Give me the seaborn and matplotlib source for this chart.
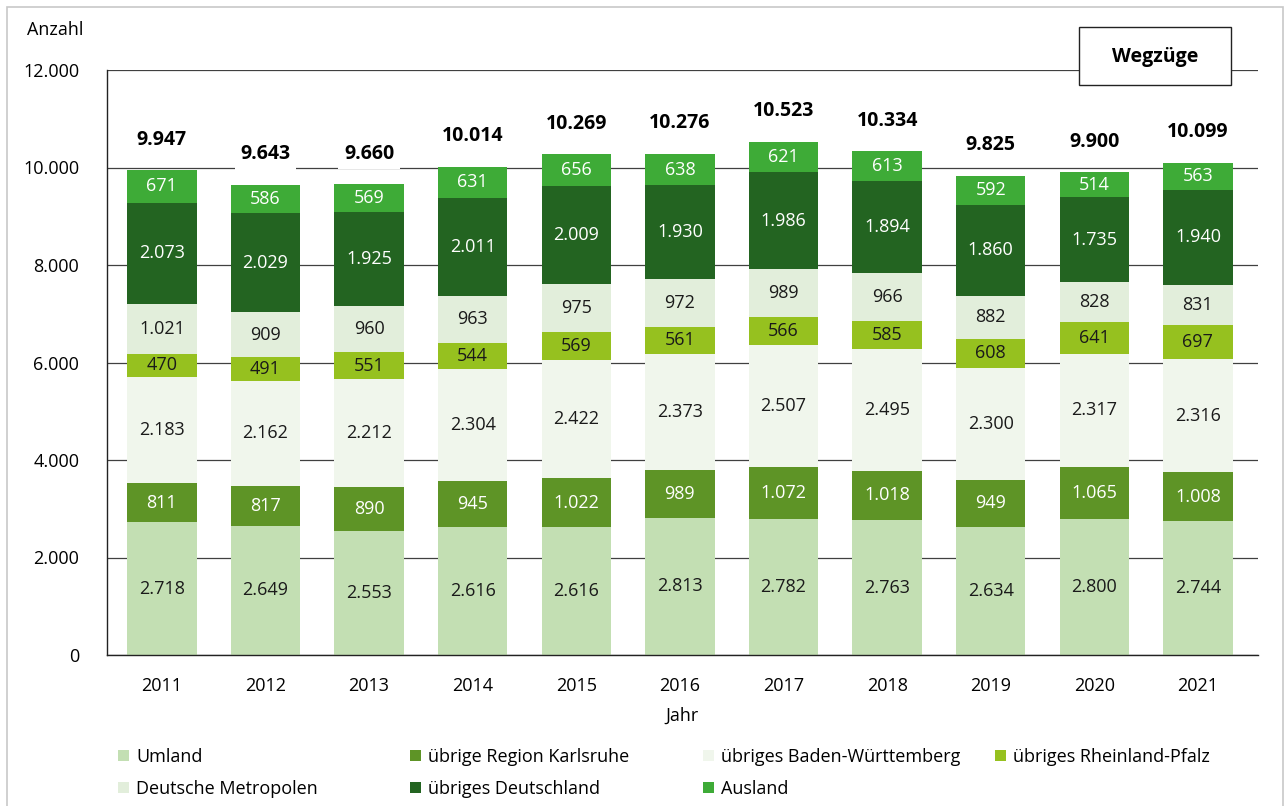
import seaborn as sns
import matplotlib.pyplot as plt
from matplotlib.patches import Patch, Rectangle
import numpy as np
import pandas as pd

# Data: Wegzüge by destination, 2011-2021
years = ["2011", "2012", "2013", "2014", "2015", "2016", "2017", "2018", "2019", "2020", "2021"]
umland = [2718, 2649, 2553, 2616, 2616, 2813, 2782, 2763, 2634, 2800, 2744]
region_ka = [811, 817, 890, 945, 1022, 989, 1072, 1018, 949, 1065, 1008]
baden_wue = [2183, 2162, 2212, 2304, 2422, 2373, 2507, 2495, 2300, 2317, 2316]
rheinland_pfalz = [470, 491, 551, 544, 569, 561, 566, 585, 608, 641, 697]
metropolen = [1021, 909, 960, 963, 975, 972, 989, 966, 882, 828, 831]
deutschland = [2073, 2029, 1925, 2011, 2009, 1930, 1986, 1894, 1860, 1735, 1940]
ausland = [671, 586, 569, 631, 656, 638, 621, 613, 592, 514, 563]

series_names = ["Umland", "übrige Region Karlsruhe", "übriges Baden-Württemberg",
                "übriges Rheinland-Pfalz", "Deutsche Metropolen", "übriges Deutschland", "Ausland"]
series_values = [umland, region_ka, baden_wue, rheinland_pfalz, metropolen, deutschland, ausland]
colors = ["#c3dfb3", "#5e9426", "#f0f6ec", "#96c11f", "#e2eedb", "#236421", "#3eab37"]
label_colors = ["#1a1a1a", "white", "#1a1a1a", "#1a1a1a", "#1a1a1a", "white", "white"]


def de(v):
    return f"{v:,}".replace(",", ".")


plt.rcParams['font.family'] = ['Open Sans', 'DejaVu Sans']

fig = plt.figure(figsize=(12.86, 8.06), dpi=100)
ax = fig.add_axes([107 / 1286, 1 - 655 / 806, (1258 - 107) / 1286, (655 - 70) / 806])

# stacked bars: draw cumulative heights from top layer down
vals = np.array(series_values)
cum = vals.cumsum(axis=0)
df = pd.DataFrame({"Jahr": years})
for k in range(len(series_names) - 1, -1, -1):
    df["h"] = cum[k]
    sns.barplot(data=df, x="Jahr", y="h", color=colors[k], saturation=1,
                width=0.67, ax=ax, zorder=2, linewidth=0)

# segment labels
for k in range(len(series_names)):
    bottoms = cum[k] - vals[k]
    for i, v in enumerate(vals[k]):
        ax.text(i, bottoms[i] + v / 2, de(v), ha="center", va="center",
                fontsize=13, color=label_colors[k], zorder=4)

# totals
totals = cum[-1]
for i, t in enumerate(totals):
    ax.annotate(de(int(t)), (i, t), xytext=(0, 22), textcoords="offset points",
                ha="center", va="center", fontsize=14, fontweight="bold", zorder=5,
                bbox=dict(boxstyle="square,pad=0.3", fc="white", ec="none"))

ax.set_ylim(0, 12000)
ax.set_xlim(-0.53, 10.58)
ax.set_yticks(range(0, 12001, 2000))
ax.set_yticklabels([de(v) for v in range(0, 12001, 2000)])
ax.yaxis.grid(True, color="#404040", linewidth=0.9, zorder=0)
ax.set_axisbelow(True)
ax.tick_params(axis="x", length=0, labelsize=13, pad=16)
ax.tick_params(axis="y", length=0, labelsize=13, pad=20)
ax.set_xlabel("Jahr", fontsize=13, labelpad=8)
ax.set_ylabel("")
for s in ["top", "right"]:
    ax.spines[s].set_visible(False)
for s in ["left", "bottom"]:
    ax.spines[s].set_color("#222222")
    ax.spines[s].set_linewidth(1.0)

fig.text(27 / 1286, 1 - 30 / 806, "Anzahl", fontsize=13, ha="left", va="center")

# title box
fig.patches.append(Rectangle((1079 / 1286, 1 - 85 / 806), 152 / 1286, 58 / 806,
                             transform=fig.transFigure, fc="white", ec="#222222",
                             lw=1.0, zorder=6))
fig.text(1155 / 1286, 1 - 57 / 806, "Wegzüge", ha="center", va="center",
         fontsize=14, fontweight="bold", zorder=7)

# legend: four columns placed individually
col_items = [[0, 4], [1, 5], [2, 6], [3]]
col_x = [118, 410, 703, 995]
for items, x in zip(col_items, col_x):
    handles = [Patch(facecolor=colors[k], edgecolor="none") for k in items]
    labels = [series_names[k] for k in items]
    fig.legend(handles, labels, loc="upper left", bbox_to_anchor=(x / 1286, 1 - 748 / 806),
               frameon=False, fontsize=13, handlelength=0.6, handleheight=0.6,
               handletextpad=0.4, labelspacing=0.78, borderaxespad=0, borderpad=0)

# light frame around figure
fig.patches.append(Rectangle((7 / 1286, -0.01), (1283 - 7) / 1286, 1.01 - 7 / 806,
                             transform=fig.transFigure, fill=False, ec="#c8c8c8", lw=1.2))

fig.savefig("out.png", dpi=100)
